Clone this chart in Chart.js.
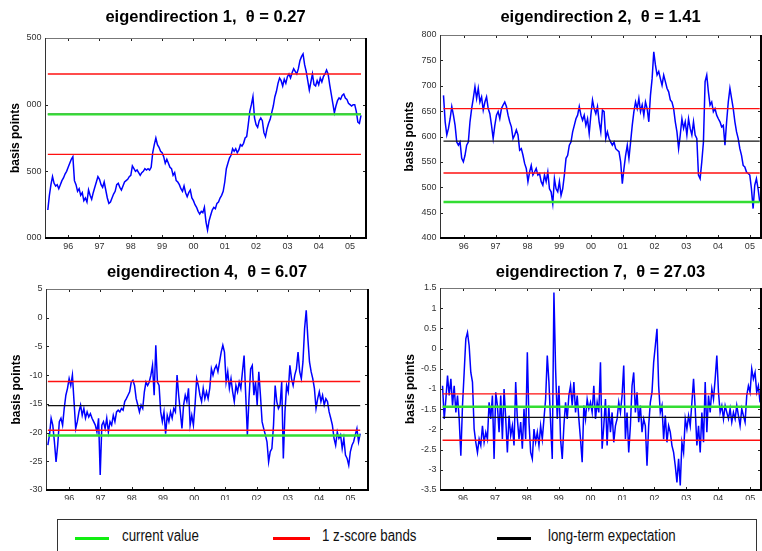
<!DOCTYPE html>
<html>
<head>
<meta charset="utf-8">
<script src="https://cdn.jsdelivr.net/npm/chart.js@4.4.0/dist/chart.umd.min.js"></script>
<style>
  body { margin: 0; width: 762px; height: 551px; overflow: hidden; background: #fff; position: relative; }
  canvas { position: absolute; }
  #legend { position: absolute; left: 57px; top: 519px; width: 700px; height: 44px; border: 1px solid #333; box-sizing: border-box; }
  #legend .sw { position: absolute; top: 17px; height: 3px; }
  #legend .lt { position: absolute; top: 7px; line-height: 20px; font: 16px 'Liberation Sans', Arial, sans-serif; color: #111; white-space: nowrap; transform: scaleX(0.83); transform-origin: 0 50%; }
</style>
</head>
<body>
<canvas id="c1" width="411" height="250" style="left:0;top:0"></canvas>
<canvas id="c2" width="439" height="250" style="left:381px;top:0"></canvas>
<canvas id="c3" width="414" height="250" style="left:0;top:250px"></canvas>
<canvas id="c4" width="439" height="250" style="left:381px;top:250px"></canvas>
<div id="legend">
  <span class="sw" style="left:17px;width:34px;background:#11ee11"></span><span class="lt" style="left:64px">current value</span>
  <span class="sw" style="left:215px;width:37px;background:#ff0000"></span><span class="lt" style="left:264px">1 z-score bands</span>
  <span class="sw" style="left:439px;width:34px;background:#000"></span><span class="lt" style="left:490px">long-term expectation</span>
</div>
<script>
// panel titles, year ticks
const titles = ['eigendirection 1,  \u03b8 = 0.27', 'eigendirection 2,  \u03b8 = 1.41',
                'eigendirection 4,  \u03b8 = 6.07', 'eigendirection 7,  \u03b8 = 27.03'];
const yearTicks = [1996, 1997, 1998, 1999, 2000, 2001, 2002, 2003, 2004, 2005];
const yearLabels = ['96', '97', '98', '99', '00', '01', '02', '03', '04', '05'];

// reference lines per panel
const bandUpper = [1230, 655, -11.1, -1.12];
const bandLower = [627, 528, -19.6, -2.27];
const currentValue = [927, 471, -20.5, -1.44];
const longTermMean = [929, 591, -15.3, -1.70];

// sampling span of each series (years)
const seriesStart = [1995.35, 1995.36, 1995.32, 1995.36];
const seriesEnd = [2005.35, 2005.31, 2005.31, 2005.31];

// eigendirection 1 (basis points)
const p1Values = [
  210,320,400,460,410,390,400,370,400,430,
  450,480,500,530,560,590,610,430,400,350,
  370,320,340,280,300,270,360,320,290,340,
  380,420,460,440,400,380,420,360,300,260,
  270,300,330,350,400,410,380,360,390,420,
  430,440,460,470,540,520,500,510,490,470,
  490,500,520,510,520,510,530,640,700,750,
  700,680,650,640,610,560,590,560,530,520,
  470,490,430,420,400,370,350,390,340,310,
  340,360,300,280,250,230,200,180,200,190,
  230,120,60,130,170,210,230,220,260,270,
  300,320,350,420,520,560,600,620,670,650,
  670,640,660,700,690,710,750,760,850,950,
  1000,1060,900,850,830,880,900,880,790,760,
  820,860,890,940,990,1060,1100,1160,1200,1180,
  1140,1190,1160,1210,1230,1200,1240,1270,1250,1230,
  1270,1330,1360,1380,1300,1250,1180,1110,1170,1230,
  1150,1140,1180,1150,1200,1170,1210,1230,1260,1230,
  1150,1080,1010,940,990,1030,1050,1040,1070,1080,
  1050,1040,1010,1000,990,1000,1000,950,870,860,
  920
];

// eigendirection 2
const p2Values = [
  681,629,603,616,635,659,642,622,589,583,589,557,550,563,583,589,629,655,675,698,
  675,695,668,678,652,668,678,655,645,622,596,622,642,649,635,655,662,668,659,642,
  629,619,596,603,613,603,573,576,563,547,537,511,530,543,524,530,537,524,527,511,
  504,524,511,530,497,491,468,517,497,491,511,484,497,524,557,563,583,589,609,622,
  635,642,659,642,632,642,622,635,606,642,672,655,645,659,629,609,652,649,
  596,609,596,589,583,589,576,573,570,550,507,537,563,583,557,589,622,649,668,655,
  675,649,662,642,668,655,629,681,714,767,741,721,728,714,701,721,708,695,688,672,
  668,655,629,609,576,603,635,616,629,603,635,616,603,629,603,596,524,517,550,589,
  708,721,688,662,668,649,655,642,635,629,619,622,583,629,668,695,675,655,629,609,
  596,576,563,543,540,530,527,524,497,458,504,517,497,471
];

// eigendirection 4
const p3Values = [
  -22.2,-20.4,-17.5,-18.7,-21.6,-25.1,-22.2,-18.1,-17.5,-18.7,-15.8,-13.5,-12.3,-10.6,-11.8,-10.0,-14.6,-19.3,-18.1,-16.4,
  -15.2,-17.0,-15.8,-17.5,-16.4,-17.3,-16.7,-17.5,-18.1,-18.7,-19.9,-17.5,-27.4,-18.7,-18.1,-19.3,-17.5,-19.9,-18.1,-18.7,
  -17.0,-18.1,-16.4,-16.1,-16.4,-15.8,-16.1,-14.6,-14.1,-13.5,-12.9,-11.2,-10.9,-11.8,-14.1,-15.2,-16.4,-15.2,-15.8,-12.9,
  -11.2,-11.8,-11.2,-10.0,-8.3,-13.5,-4.8,-11.2,-11.8,-16.4,-18.1,-16.4,-20.2,-17.0,-18.1,-16.4,-17.5,-15.8,-16.4,-10.0,
  -13.5,-16.4,-19.3,-15.2,-13.5,-14.6,-12.3,-18.7,-17.0,-18.7,-15.2,-10.6,-11.8,-13.5,-14.6,-12.3,-14.1,-12.9,
  -14.1,-12.3,-8.9,-10.0,-8.9,-8.3,-9.4,-7.7,-6.0,-4.8,-6.0,-11.2,-9.4,-12.3,-10.6,-12.9,-14.6,-11.8,-12.9,-11.2,
  -12.3,-9.4,-6.6,-13.5,-20.4,-14.1,-8.9,-8.3,-13.5,-11.2,-15.2,-9.4,-13.5,-18.1,-19.3,-20.4,-21.6,-25.1,-23.3,-22.8,
  -18.7,-11.8,-14.6,-15.8,-15.2,-11.2,-24.5,-16.4,-11.8,-12.9,-8.3,-10.6,-11.8,-10.0,-8.9,-6.0,-9.4,-10.6,-7.7,-1.9,
  1.3,-3.6,-7.7,-9.4,-10.6,-12.3,-15.8,-14.1,-12.9,-14.6,-13.5,-15.2,-14.1,-14.6,-16.4,-17.5,-18.7,-21.0,-22.2,-19.9,
  -21.0,-20.4,-22.8,-21.0,-23.9,-24.5,-25.7,-23.3,-22.2,-21.6,-20.4,-19.3,-21.6,-20.2
];

// eigendirection 7
const p4Values = [
  -0.92,-1.74,-1.25,-0.67,-1.16,-0.75,-1.41,-0.92,-1.58,-1.16,-1.74,-2.65,-1.41,-0.59,0.24,0.40,0.07,-0.59,-0.83,-1.99,
  -2.32,-2.57,-2.24,-2.40,-1.91,-2.32,-2.07,-2.24,-1.33,-1.74,-1.16,-2.73,-1.08,-1.41,-2.07,-1.16,-2.24,-1.00,-1.74,-2.57,
  -1.66,-2.15,-1.91,-2.40,-0.83,-1.74,-2.24,-1.82,-2.48,-1.49,-2.24,-0.09,-1.82,-2.57,-2.73,-1.99,-2.32,-2.07,-2.40,-1.91,
  -2.24,-1.74,-1.25,-0.17,-0.83,-1.82,-2.73,1.39,-0.50,-1.74,-0.92,-2.24,-2.73,-1.91,-1.33,-1.74,-1.16,-0.92,-1.41,-0.83,
  -1.58,-1.16,-1.74,-2.24,-2.81,-1.41,-1.74,-1.25,-1.49,-1.33,-1.58,-0.92,-1.74,-1.33,-1.58,-0.34,-2.48,
  -1.91,-1.25,-2.40,-1.41,-2.07,-1.58,-2.32,-1.91,-1.74,-1.33,-1.58,-1.16,-0.42,-2.24,-1.58,-2.57,-1.91,-0.92,-0.59,-1.58,
  -1.08,-1.82,-1.41,-2.07,-1.74,-1.91,-2.90,-1.91,-1.33,-1.08,-0.34,0.07,0.49,-0.92,-1.58,-1.41,-2.24,-1.66,-2.32,-1.91,
  -2.07,-2.40,-2.57,-2.90,-3.31,-2.73,-3.39,-2.32,-2.57,-1.74,-1.99,-1.66,-1.91,-1.33,-0.75,-1.49,-2.40,-1.91,-2.57,-1.58,
  -2.32,-0.83,-2.07,-1.16,-1.58,-1.00,-1.25,-0.75,-0.17,-1.08,-1.58,-1.41,-1.74,-1.41,-1.58,-1.74,-1.49,-1.82,-1.58,-1.74,
  -1.41,-1.66,-1.91,-1.49,-1.66,-1.82,-1.16,-0.92,-1.08,-0.50,-0.75,-0.59,-1.08,-0.92,-1.33
];

Chart.defaults.font.family = "'Liberation Sans', Arial, sans-serif";

// inward tick marks and the box round the plot
const framePlugin = {
  id: 'frame',
  afterDatasetsDraw(chart) {
    const { ctx, chartArea: a, scales: { x, y } } = chart;
    const seg = (x1, y1, x2, y2) => { ctx.beginPath(); ctx.moveTo(x1, y1); ctx.lineTo(x2, y2); ctx.stroke(); };
    ctx.save();
    ctx.strokeStyle = '#222';
    ctx.lineWidth = 1;
    x.ticks.forEach(t => {
      const px = Math.round(x.getPixelForValue(t.value)) + 0.5;
      seg(px, a.top, px, a.top + 3);
      seg(px, a.bottom, px, a.bottom - 3);
    });
    y.ticks.forEach(t => {
      const py = Math.round(y.getPixelForValue(t.value)) + 0.5;
      if (py < a.top + 2 || py > a.bottom - 2) return;
      seg(a.left, py, a.left + 3, py);
      seg(a.right, py, a.right - 3, py);
    });
    ctx.strokeStyle = '#777';
    seg(a.left, a.top + 0.5, a.right, a.top + 0.5);
    ctx.strokeStyle = '#333';
    seg(a.left + 0.5, a.top, a.left + 0.5, a.bottom);
    ctx.strokeStyle = '#000';
    ctx.lineWidth = 2;
    seg(a.right, a.top, a.right, a.bottom + 1);
    seg(a.left, a.bottom, a.right + 1, a.bottom);
    ctx.restore();
  }
};

function makePanel(k, cfg) {
  const values = cfg.values;
  const x0 = seriesStart[k], x1 = seriesEnd[k];
  const pts = values.map((v, i) => ({ x: x0 + i * (x1 - x0) / (values.length - 1), y: v }));
  const hline = (v, color, w) => ({
    data: [{ x: x0, y: v }, { x: x1, y: v }],
    borderColor: color, borderWidth: w, pointRadius: 0
  });
  const tickFont = { size: 9 };
  new Chart(document.getElementById('c' + (k + 1)), {
    type: 'line',
    data: {
      datasets: [
        hline(bandUpper[k], '#ff1010', 1.4),
        hline(bandLower[k], '#ff1010', 1.4),
        hline(currentValue[k], '#33dd33', 2.4),
        hline(longTermMean[k], '#111', 1.3),
        { data: pts, borderColor: '#0000ff', borderWidth: 1.5, pointRadius: 0, tension: 0 }
      ]
    },
    options: {
      responsive: false,
      animation: false,
      events: [],
      layout: { padding: 0 },
      plugins: {
        legend: { display: false },
        tooltip: { enabled: false },
        title: {
          display: true, text: titles[k], color: '#000',
          font: { size: 16.5, weight: 'bold' },
          padding: { top: cfg.titleTop, bottom: cfg.titleBottom }
        }
      },
      scales: {
        x: {
          type: 'linear', min: cfg.xMin, max: cfg.xMax,
          afterBuildTicks: s => { s.ticks = yearTicks.map(v => ({ value: v })); },
          afterFit: s => { s.height = cfg.xHeight; },
          grid: { display: false, drawTicks: false },
          border: { display: false },
          ticks: {
            padding: 3, font: tickFont, color: '#333', maxRotation: 0, autoSkip: false,
            callback: v => yearLabels[yearTicks.indexOf(Math.round(v))]
          }
        },
        y: {
          min: cfg.yMin, max: cfg.yMax,
          afterFit: s => { s.width = cfg.yWidth; },
          grid: { display: false, drawTicks: false },
          border: { display: false },
          ticks: { stepSize: cfg.step, padding: 3.5, font: tickFont, color: '#333', callback: cfg.fmt },
          title: {
            display: true, text: 'basis points', color: '#000',
            font: { size: 12, weight: 'bold' },
            padding: { top: cfg.yTitlePad, bottom: 0 }
          }
        },
        yRight: {
          position: 'right',
          afterFit: s => { s.width = cfg.yWidth; },
          grid: { display: false, drawTicks: false },
          border: { display: false },
          ticks: { display: false }
        }
      }
    },
    plugins: [framePlugin]
  });
}

window.addEventListener('load', () => {
  makePanel(0, {
    values: p1Values, xMin: 1995.26, xMax: 2005.51, yMin: 0, yMax: 1500, step: 500,
    fmt: v => String(Math.round(v) % 1000).padStart(3, '0'),
    yWidth: 45, xHeight: 12, titleTop: 7.7, titleBottom: 10.5, yTitlePad: 8.6
  });
  makePanel(1, {
    values: p2Values, xMin: 1995.25, xMax: 2005.35, yMin: 400, yMax: 800, step: 50,
    yWidth: 59, xHeight: 12, titleTop: 7.7, titleBottom: 7.5, yTitlePad: 21.8
  });
  makePanel(2, {
    values: p3Values, xMin: 1995.26, xMax: 2005.56, yMin: -30, yMax: 5, step: 5,
    yWidth: 46, xHeight: 10, titleTop: 12.1, titleBottom: 7.1, yTitlePad: 9.8
  });
  makePanel(3, {
    values: p4Values, xMin: 1995.28, xMax: 2005.34, yMin: -3.5, yMax: 1.5, step: 0.5,
    yWidth: 59, xHeight: 10, titleTop: 12.1, titleBottom: 6.1, yTitlePad: 22.3
  });
});
</script>
</body>
</html>
